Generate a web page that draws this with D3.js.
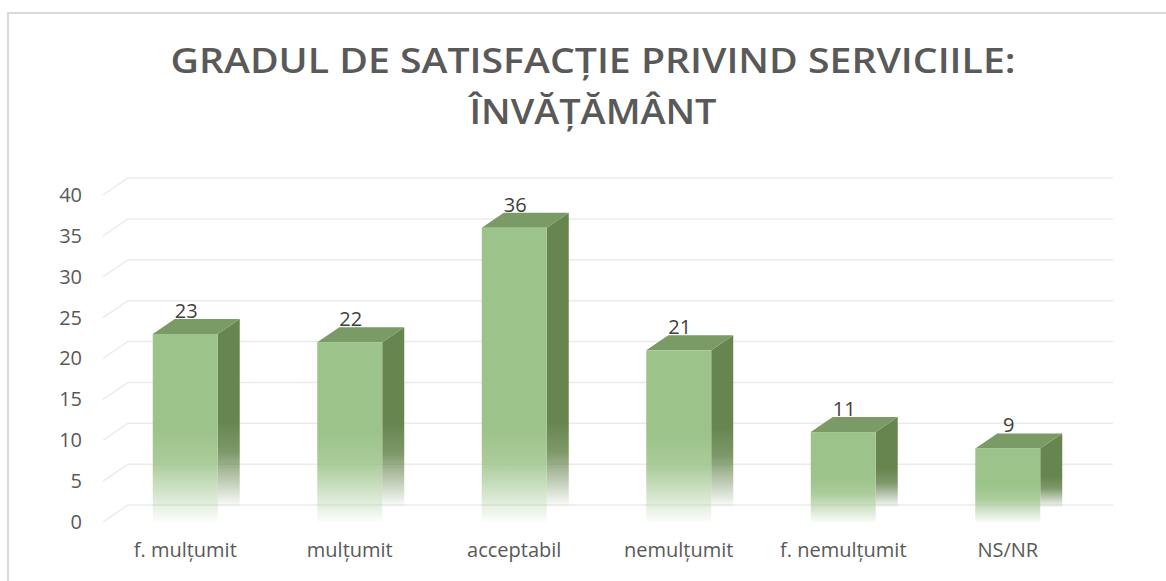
<!DOCTYPE html>
<html>
<head>
<meta charset="utf-8">
<script src="https://cdn.jsdelivr.net/npm/d3@7/dist/d3.min.js"></script>
<style>
  html, body { margin: 0; padding: 0; background: #fff; }
  svg { display: block; }
  text { font-family: "Open Sans", "DejaVu Sans", sans-serif; }
</style>
</head>
<body>
<svg id="chart" width="1166" height="581"></svg>
<script>
const categories = ["f. mulțumit", "mulțumit", "acceptabil", "nemulțumit", "f. nemulțumit", "NS/NR"];
const values = [23, 22, 36, 21, 11, 9];
const yTicks = [0, 5, 10, 15, 20, 25, 30, 35, 40];
const titleLines = ["GRADUL DE SATISFACȚIE PRIVIND SERVICIILE:", "ÎNVĂȚĂMÂNT"];

const W = 1166, H = 581;
const svg = d3.select("#chart");

// frame
svg.append("rect").attr("x", 8).attr("y", 13).attr("width", W).attr("height", H)
  .attr("fill", "#fff").attr("stroke", "#d9d9d9").attr("stroke-width", 2);

// scales (front plane)
const y = d3.scaleLinear().domain([0, 40]).range([522, 195]);
const x = d3.scaleBand().domain(categories).range([103, 1090]).paddingInner(0.605).paddingOuter(0.3025);

const wallDX = 25, wallDY = -17;   // back wall offset
const barDX = 22, barDY = -15;     // bar depth offset
const xRight = 1113;

const defs = svg.append("defs");
function grad(id, color, y0, y1) {
  const g = defs.append("linearGradient").attr("id", id)
    .attr("gradientUnits", "userSpaceOnUse")
    .attr("x1", 0).attr("y1", y0).attr("x2", 0).attr("y2", y1);
  g.append("stop").attr("offset", 0).attr("stop-color", color).attr("stop-opacity", 1);
  g.append("stop").attr("offset", 0.35).attr("stop-color", color).attr("stop-opacity", 0.85);
  g.append("stop").attr("offset", 0.7).attr("stop-color", color).attr("stop-opacity", 0.4);
  g.append("stop").attr("offset", 1).attr("stop-color", color).attr("stop-opacity", 0.0);
}

// gridlines
const grid = svg.append("g");
yTicks.forEach(t => {
  const fy = y(t);
  grid.append("path")
    .attr("d", `M${103},${fy} L${103 + wallDX},${fy + wallDY} L${xRight},${fy + wallDY}`)
    .attr("fill", "none").attr("stroke", "#ebebeb").attr("stroke-width", 1.5);
});

// y axis labels
const yAxis = svg.append("g").attr("transform", "translate(82,0)")
  .call(d3.axisLeft(y).tickValues(yTicks).tickSize(0).tickPadding(0));
yAxis.select(".domain").remove();
yAxis.selectAll("text").attr("font-size", 20).attr("fill", "#595959")
  .style("font-family", '"Open Sans", sans-serif');

// x axis labels
const xAxis = svg.append("g").attr("transform", "translate(0,522)")
  .call(d3.axisBottom(x).tickSize(0).tickPadding(21));
xAxis.select(".domain").remove();
xAxis.selectAll("text").attr("font-size", 20).attr("fill", "#595959")
  .style("font-family", '"Open Sans", sans-serif');

// bars
const bars = svg.append("g").selectAll("g").data(categories).join("g");
bars.each(function(c, i) {
  const g = d3.select(this);
  const x0 = x(c), x1 = x(c) + x.bandwidth();
  const yt = y(values[i]), yb = y(0);
  const h = yb - yt;
  const fade = Math.min(92, 0.5 * h);
  grad("gF" + i, "#9cc389", yb - fade, yb + 2);
  grad("gS" + i, "#67864f", yb - fade - 8, yb - 14);
  // side face
  g.append("path")
    .attr("d", `M${x1},${yt} L${x1 + barDX},${yt + barDY} L${x1 + barDX},${yb + barDY} L${x1},${yb} Z`)
    .attr("fill", `url(#gS${i})`);
  // top face
  g.append("path")
    .attr("d", `M${x0},${yt} L${x0 + barDX},${yt + barDY} L${x1 + barDX},${yt + barDY} L${x1},${yt} Z`)
    .attr("fill", "#7a9a66");
  // front face
  g.append("rect").attr("x", x0).attr("y", yt).attr("width", x1 - x0).attr("height", h)
    .attr("fill", `url(#gF${i})`);
  // value label
  g.append("text").attr("x", (x0 + x1) / 2 + 1).attr("y", yt + barDY - 1)
    .attr("text-anchor", "middle").attr("font-size", 20).attr("fill", "#404040")
    .text(values[i]);
});

// title
const title = svg.append("g");
title.append("text").attr("x", 593).attr("y", 73).attr("text-anchor", "middle")
  .attr("font-size", 35).attr("font-weight", 600).attr("fill", "#595959")
  .attr("textLength", 845).attr("lengthAdjust", "spacingAndGlyphs")
  .text(titleLines[0]);
title.append("text").attr("x", 593).attr("y", 124).attr("text-anchor", "middle")
  .attr("font-size", 35).attr("font-weight", 600).attr("fill", "#595959")
  .attr("textLength", 247).attr("lengthAdjust", "spacingAndGlyphs")
  .text(titleLines[1]);
</script>
</body>
</html>
